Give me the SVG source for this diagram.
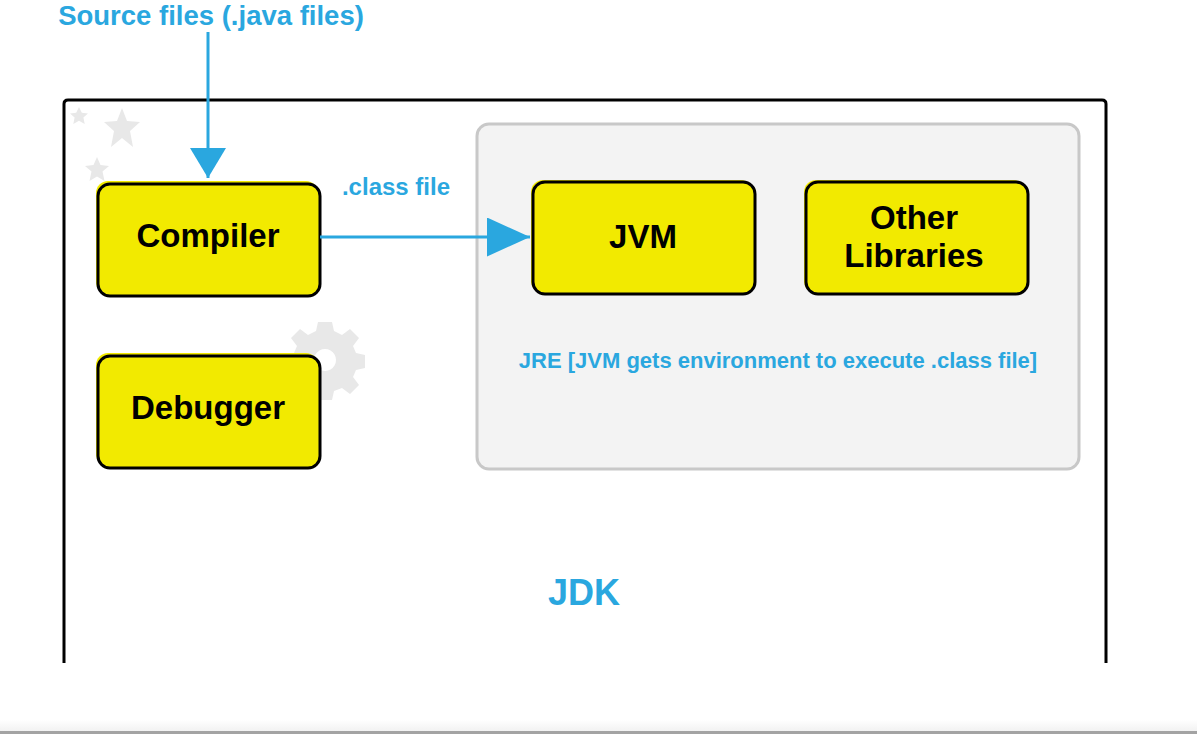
<svg xmlns="http://www.w3.org/2000/svg" width="1197" height="737" viewBox="0 0 1197 737">
  <defs>
    <style>
      .lbl { font-family: "Liberation Sans", Arial, sans-serif; font-weight: bold; fill: #2aa7df; text-anchor: middle; }
      .ntx { font-family: "Liberation Sans", Arial, sans-serif; font-weight: bold; font-size: 33px; fill: #000; text-anchor: middle; }
      .box { fill: #f2ea00; stroke: #000; stroke-width: 3; }
      .glow { fill: #f2ea00; }
      .conn { stroke: #2aa7df; stroke-width: 3; fill: none; }
      .deco { fill: #e8e8e8; }
    </style>
    <marker id="arrowV" viewBox="0 0 30 36" markerWidth="30" markerHeight="36" refX="30" refY="18" orient="auto" markerUnits="userSpaceOnUse">
      <path d="M0,0 L30,18 L0,36 Z" fill="#2aa7df"/>
    </marker>
    <marker id="arrowH" viewBox="0 0 43 39" markerWidth="43" markerHeight="39" refX="43" refY="19.5" orient="auto" markerUnits="userSpaceOnUse">
      <path d="M0,0 L43,19.5 L0,39 Z" fill="#2aa7df"/>
    </marker>
    <linearGradient id="bottomShade" x1="0" y1="0" x2="0" y2="1">
      <stop offset="0" stop-color="#ffffff"/>
      <stop offset="1" stop-color="#f2f2f2"/>
    </linearGradient>
  </defs>

  <rect x="0" y="0" width="1197" height="737" fill="#ffffff"/>

  <!-- JDK frame -->
  <g id="jdk">
    <path d="M64,663 L64,104 Q64,100 68,100 L1102,100 Q1106,100 1106,104 L1106,663" fill="none" stroke="#000" stroke-width="3"/>
    <text class="lbl" x="584" y="605" font-size="36">JDK</text>
  </g>

  <!-- decorations -->
  <g id="decor">
    <polygon class="deco" points="79,107 81.8,112.8 88,113.5 83.4,117.6 84.7,124 79,120.8 73.3,124 74.6,117.6 70,113.5 76.2,112.8"/>
    <polygon class="deco" points="122,108 127,121 140,122 130,131 133,147 122,138 111,147 114,131 104,122 117,121"/>
    <polygon class="deco" points="97,157 100.5,165 109,166 102.5,171.5 104.5,181 97,176.5 89.5,181 91.5,171.5 85,166 93.5,165"/>
    <g transform="translate(325,360)">
      <path class="deco" fill-rule="evenodd" d="M-7,-38 L7,-38 L9,-29 L17,-25 L25,-31 L34,-22 L28,-14 L31,-7 L40,-5 L40,8 L31,10 L28,17 L34,25 L25,34 L17,28 L9,31 L7,40 L-7,40 L-9,31 L-17,28 L-25,34 L-34,25 L-28,17 L-31,10 L-40,8 L-40,-5 L-31,-7 L-28,-14 L-34,-22 L-25,-31 L-17,-25 L-9,-29 Z M0,-11 A11,11 0 1,0 0.01,-11 Z"/>
    </g>
  </g>

  <!-- JRE container -->
  <g id="jre">
    <rect x="477" y="124" width="602" height="345" rx="12" ry="12" fill="#f3f3f3" stroke="#c8c8c8" stroke-width="3"/>
    <text class="lbl" x="778" y="368" font-size="22">JRE [JVM gets environment to execute .class file]</text>
  </g>

  <g id="compiler">
    <rect class="glow" x="96" y="181" width="222" height="113" rx="12"/>
    <rect class="box" x="98" y="184" width="222" height="112" rx="12"/>
    <text class="ntx" x="208" y="247">Compiler</text>
  </g>

  <g id="debugger">
    <rect class="glow" x="96" y="353" width="222" height="113" rx="12"/>
    <rect class="box" x="98" y="356" width="222" height="112" rx="12"/>
    <text class="ntx" x="208" y="419">Debugger</text>
  </g>

  <g id="jvm">
    <rect class="glow" x="531" y="180" width="222" height="113" rx="12"/>
    <rect class="box" x="533" y="182" width="222" height="112" rx="12"/>
    <text class="ntx" x="643" y="248">JVM</text>
  </g>

  <g id="other-libraries">
    <rect class="glow" x="804" y="180" width="222" height="113" rx="12"/>
    <rect class="box" x="806" y="182" width="222" height="112" rx="12"/>
    <text class="ntx" x="914" y="229">Other</text>
    <text class="ntx" x="914" y="267">Libraries</text>
  </g>

  <!-- connectors -->
  <g id="connectors">
    <line class="conn" x1="208" y1="32" x2="208" y2="178" marker-end="url(#arrowV)"/>
    <line class="conn" x1="320" y1="237" x2="530" y2="237" marker-end="url(#arrowH)"/>
    <text class="lbl" x="211" y="25" font-size="27.5">Source files (.java files)</text>
    <text class="lbl" x="396" y="195" font-size="24">.class file</text>
  </g>

  <!-- bottom edge -->
  <rect x="0" y="720" width="1197" height="11" fill="url(#bottomShade)"/>
  <rect x="0" y="731" width="1197" height="3" fill="#a3a3a3"/>
</svg>
